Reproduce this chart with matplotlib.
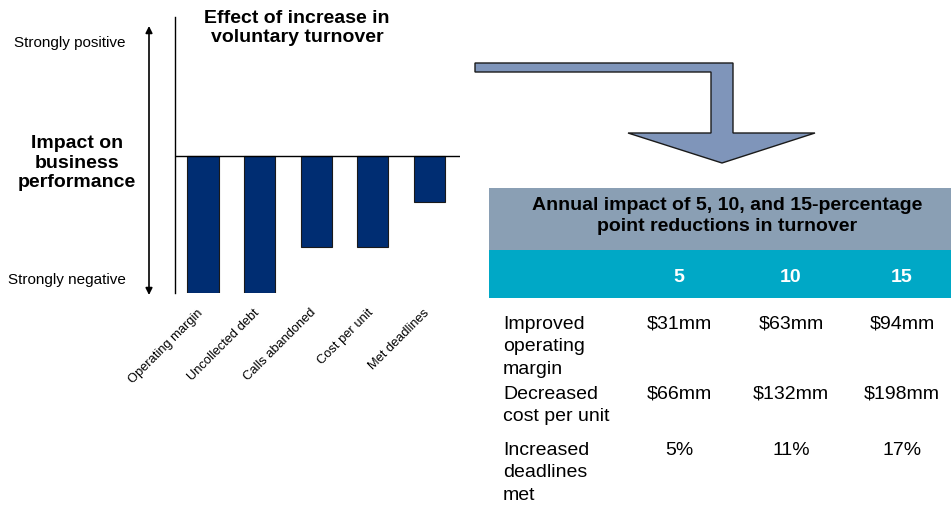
import matplotlib
matplotlib.use("Agg")
import matplotlib.pyplot as plt
from matplotlib.patches import Polygon, Rectangle
from matplotlib.transforms import ScaledTranslation

plt.rcParams['font.family'] = ['Liberation Sans', 'DejaVu Sans']

# data
categories = ["Operating margin", "Uncollected debt", "Calls abandoned",
              "Cost per unit", "Met deadlines"]
impact = [-3, -3, -2, -2, -1]

table_cols = ["5", "10", "15"]
row_labels = ["Improved\noperating\nmargin", "Decreased\ncost per unit",
              "Increased\ndeadlines\nmet"]
margin_vals = ["$31mm", "$63mm", "$94mm"]
cost_vals = ["$66mm", "$132mm", "$198mm"]
deadline_vals = ["5%", "11%", "17%"]
table_rows = [margin_vals, cost_vals, deadline_vals]

W, H = 951, 508
fig = plt.figure(figsize=(W / 100, H / 100), dpi=100)

# overlay in pixel coordinates for annotations / table / arrow
ov = fig.add_axes([0, 0, 1, 1])
ov.set_xlim(0, W)
ov.set_ylim(H, 0)
ov.axis('off')

# bar chart axes
left, right, top, bottom = 175, 460, 17, 293
ax = fig.add_axes([left / W, (H - bottom) / H, (right - left) / W, (bottom - top) / H])
ax.patch.set_alpha(0)
ax.bar(range(len(categories)), impact, width=0.55, color="#002D72",
       edgecolor="#1a1a1a", linewidth=0.8)
ax.axhline(0, color="black", lw=1)
ax.set_xlim(-0.495, 4.54)
ax.set_ylim(-3, 3.04)
for s in ["top", "right", "bottom"]:
    ax.spines[s].set_visible(False)
ax.spines["left"].set_linewidth(1)
ax.set_yticks([])
ax.set_xticks(range(len(categories)))
ax.set_xticklabels(categories, rotation=45, ha="right", va="top",
                   rotation_mode="anchor", fontsize=9.3)
ax.tick_params(axis="x", length=0, pad=10)
shift = ScaledTranslation(-6 / 100, 0, fig.dpi_scale_trans)
for lbl in ax.get_xticklabels():
    lbl.set_transform(lbl.get_transform() + shift)

# titles and scale
ov.text(297, 28, "Effect of increase in\nvoluntary turnover",
        ha="center", va="center", fontsize=14, fontweight="bold", linespacing=1.18)

ov.annotate("", xy=(149, 26), xytext=(149, 295),
            arrowprops=dict(arrowstyle="<|-|>", color="black", lw=1.2,
                            mutation_scale=10, shrinkA=0, shrinkB=0))
ov.text(126, 43, "Strongly positive", ha="right", va="center", fontsize=11)
ov.text(126, 280, "Strongly negative", ha="right", va="center", fontsize=11)
ov.text(77, 163, "Impact on\nbusiness\nperformance", ha="center", va="center",
        fontsize=14, fontweight="bold", linespacing=1.18)

# bent arrow
arrow_pts = [(475, 63), (733, 63), (733, 133), (815, 133), (722, 163),
             (628, 133), (711, 133), (711, 72), (475, 72)]
ov.add_patch(Polygon(arrow_pts, closed=True, facecolor="#7F95BA",
                     edgecolor="#1a1a1a", linewidth=1))

# table
ov.add_patch(Rectangle((489, 188), W - 489, 62, facecolor="#8A9FB4", edgecolor="none"))
ov.add_patch(Rectangle((489, 250), W - 489, 48, facecolor="#00A8C6", edgecolor="none"))
ov.text(727, 216, "Annual impact of 5, 10, and 15-percentage\npoint reductions in turnover",
        ha="center", va="center", fontsize=14, fontweight="bold", linespacing=1.3)

col_x = [679, 791, 902]
for cx, c in zip(col_x, table_cols):
    ov.text(cx, 277, c, ha="center", va="center", fontsize=14,
            fontweight="bold", color="white")

row_y = [323, 393, 449]
for ry, lab, vals in zip(row_y, row_labels, table_rows):
    ov.text(503, ry - 7, lab, ha="left", va="top", fontsize=14, linespacing=1.42)
    for cx, v in zip(col_x, vals):
        ov.text(cx, ry - 7, v, ha="center", va="top", fontsize=14)

fig.savefig("out.png", dpi=100, facecolor="white")
